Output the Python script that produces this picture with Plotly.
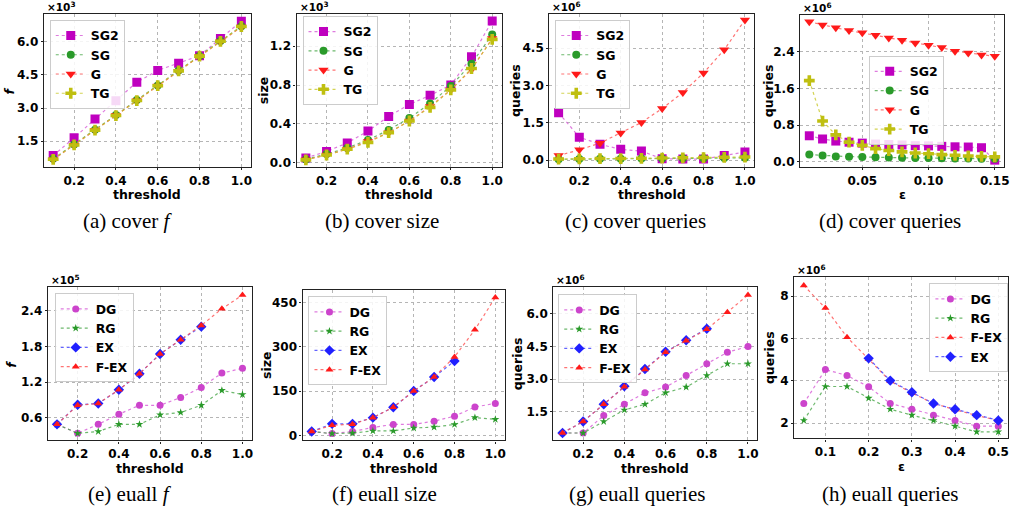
import plotly.graph_objects as go

W, H = 1016, 517

threshold = [0.1, 0.2, 0.3, 0.4, 0.5, 0.6, 0.7, 0.8, 0.9, 1.0]
threshold_ex = [0.1, 0.2, 0.3, 0.4, 0.5, 0.6, 0.7, 0.8]
eps_cover = [0.01, 0.02, 0.03, 0.04, 0.05, 0.06, 0.07, 0.08, 0.09, 0.10, 0.11, 0.12, 0.13, 0.14, 0.15]
eps_euall = [0.05, 0.10, 0.15, 0.20, 0.25, 0.30, 0.35, 0.40, 0.45, 0.50]
eps_euall_ex = [0.20, 0.25, 0.30, 0.35, 0.40, 0.45, 0.50]

# (a) cover f  (x10^3)
a_SG2 = [0.85, 1.65, 2.50, 3.33, 4.17, 4.70, 5.03, 5.37, 6.15, 6.93]
a_SG = [0.70, 1.35, 2.02, 2.68, 3.36, 4.02, 4.70, 5.36, 6.03, 6.70]
a_G = [0.66, 1.32, 1.99, 2.66, 3.33, 4.00, 4.67, 5.34, 6.00, 6.67]
a_TG = [0.68, 1.33, 2.00, 2.66, 3.34, 4.01, 4.68, 5.35, 6.02, 6.69]
# (b) cover size (x10^3)
b_SG2 = [0.05, 0.116, 0.204, 0.327, 0.477, 0.60, 0.694, 0.80, 1.09, 1.46]
b_SG = [0.034, 0.089, 0.153, 0.235, 0.337, 0.46, 0.61, 0.79, 1.02, 1.32]
b_G = [0.03, 0.08, 0.14, 0.22, 0.31, 0.43, 0.58, 0.75, 0.96, 1.28]
b_TG = [0.03, 0.08, 0.14, 0.21, 0.31, 0.43, 0.57, 0.75, 0.97, 1.27]
# (c) cover queries (x10^6)
c_SG2 = [1.90, 0.92, 0.63, 0.43, 0.36, 0.05, 0.04, 0.04, 0.18, 0.32]
c_SG = [0.03, 0.04, 0.05, 0.05, 0.06, 0.06, 0.07, 0.07, 0.08, 0.09]
c_G = [0.18, 0.41, 0.68, 1.09, 1.51, 2.07, 2.71, 3.50, 4.43, 5.63]
c_TG = [0.04, 0.05, 0.06, 0.06, 0.07, 0.08, 0.09, 0.10, 0.11, 0.12]
# (d) cover queries vs eps (x10^6)
d_SG2 = [0.57, 0.50, 0.455, 0.43, 0.41, 0.39, 0.38, 0.37, 0.355, 0.35, 0.34, 0.33, 0.325, 0.31, 0.04]
d_SG = [0.16, 0.14, 0.12, 0.115, 0.11, 0.10, 0.095, 0.09, 0.088, 0.085, 0.08, 0.078, 0.075, 0.072, 0.07]
d_G = [3.05, 2.98, 2.92, 2.86, 2.81, 2.76, 2.70, 2.65, 2.59, 2.54, 2.49, 2.41, 2.37, 2.33, 2.30]
d_TG = [1.77, 0.89, 0.59, 0.43, 0.36, 0.29, 0.25, 0.22, 0.195, 0.18, 0.16, 0.145, 0.13, 0.12, 0.11]
# (e) euall f (x10^5)
e_DG = [0.49, 0.34, 0.49, 0.66, 0.81, 0.81, 0.94, 1.11, 1.35, 1.43]
e_RG = [0.49, 0.34, 0.37, 0.49, 0.49, 0.65, 0.69, 0.81, 1.06, 0.99]
e_EX = [0.49, 0.82, 0.84, 1.07, 1.34, 1.67, 1.91, 2.13]
e_FEX = [0.49, 0.81, 0.84, 1.07, 1.34, 1.67, 1.91, 2.15, 2.43, 2.66]
# (f) euall size
f_DG = [14, 7, 14, 28, 38, 38, 49, 66, 97, 109]
f_RG = [14, 7, 9, 16, 16, 26, 29, 38, 61, 55]
f_EX = [14, 40, 40, 61, 96, 151, 198, 252]
f_FEX = [14, 35, 39, 61, 96, 151, 198, 266, 358, 467]
# (g) euall queries (x10^6)
g_DG = [0.53, 0.53, 1.33, 1.85, 2.38, 2.64, 3.17, 3.71, 4.24, 4.50]
g_RG = [0.53, 0.53, 1.06, 1.59, 1.85, 2.38, 2.64, 3.17, 3.71, 3.71]
g_EX = [0.53, 1.06, 1.85, 2.68, 3.47, 4.26, 4.79, 5.32]
g_FEX = [0.53, 1.06, 1.85, 2.65, 3.45, 4.24, 4.77, 5.29, 6.08, 6.87]
# (h) euall queries vs eps (x10^6)
h_DG = [2.93, 4.53, 4.25, 3.72, 2.93, 2.66, 2.38, 2.13, 1.86, 1.86]
h_RG = [2.13, 3.73, 3.73, 3.18, 2.66, 2.38, 2.13, 1.86, 1.59, 1.59]
h_FEX = [8.50, 7.43, 6.06, 5.03, 3.98, 3.43, 2.93, 2.64, 2.36, 2.13]
h_EX = [5.06, 4.01, 3.46, 2.93, 2.66, 2.38, 2.13]

captions = ["(a) cover <i>f</i>", "(b) cover size", "(c) cover queries", "(d) cover queries",
            "(e) euall <i>f</i>", "(f) euall size", "(g) euall queries", "(h) euall queries"]
ylabels = ["<i>f</i>", "size", "queries", "queries", "<i>f</i>", "size", "queries", "queries"]
xlabels = ["threshold", "threshold", "threshold", "ε", "threshold", "threshold", "threshold", "ε"]
exponents = ["×10<sup>3</sup>", "×10<sup>3</sup>", "×10<sup>6</sup>", "×10<sup>6</sup>",
             "×10<sup>5</sup>", "", "×10<sup>6</sup>", "×10<sup>6</sup>"]

C_M = "#bf00bf"; C_G = "#2a9a2a"; C_R = "#ff1a1a"; C_Y = "#bfbf10"; C_B = "#2020ff"
LM = "rgba(214,90,214,0.8)"; LG = "rgba(60,160,60,0.75)"; LR = "rgba(255,80,80,0.8)"; LY = "rgba(200,200,40,0.8)"; LB = "rgba(60,60,255,0.8)"

# panel geometry in pixels: (left, right, top, bottom)
boxes = [(44, 252, 14, 168), (298, 504, 14, 168), (552, 758, 14, 168), (804, 1009, 15, 168),
         (48, 253, 289, 443), (304, 507, 292, 443), (556, 761, 289, 443), (798, 1013, 279, 441)]
xr = [[0.055, 1.045]] * 3 + [[0.003, 0.157]] + [[0.055, 1.045]] * 3 + [[0.0275, 0.5225]]
yr = [[0.33, 7.26], [-0.044, 1.532], [-0.28, 5.87], [-0.11, 3.2],
      [0.22, 2.79], [-16, 491], [0.19, 7.22], [1.28, 8.88]]
ytv = [[1.5, 3.0, 4.5, 6.0], [0.0, 0.4, 0.8, 1.2], [0.0, 1.5, 3.0, 4.5], [0.0, 0.8, 1.6, 2.4],
       [0.6, 1.2, 1.8, 2.4], [0, 150, 300, 450], [1.5, 3.0, 4.5, 6.0], [2, 4, 6, 8]]
yfmt = [".1f", ".1f", ".1f", ".1f", ".1f", "d", ".1f", "d"]
xtv = [[0.2, 0.4, 0.6, 0.8, 1.0]] * 3 + [[0.05, 0.10, 0.15]] + [[0.2, 0.4, 0.6, 0.8, 1.0]] * 3 + [[0.1, 0.2, 0.3, 0.4, 0.5]]
xfmt = [".1f"] * 3 + [".2f"] + [".1f"] * 4
legpos = [(50, 20), (304, 16), (558, 20), (873, 56), (55, 295), (310, 298), (561, 296), (934, 285)]
ylab_x = [10, 265, 518, 773, 12, 268, 520, 774]
cap_x = [128, 384, 639, 894, 131, 386, 640, 894]
cap_y = [222, 222, 222, 222, 497, 497, 497, 497]

series = [
    [("SG2", threshold, a_SG2, "square", C_M, LM, 9), ("SG", threshold, a_SG, "circle", C_G, LG, 8),
     ("G", threshold, a_G, "triangle-down", C_R, LR, 9), ("TG", threshold, a_TG, "cross", C_Y, LY, 9)],
    [("SG2", threshold, b_SG2, "square", C_M, LM, 9), ("SG", threshold, b_SG, "circle", C_G, LG, 8),
     ("G", threshold, b_G, "triangle-down", C_R, LR, 9), ("TG", threshold, b_TG, "cross", C_Y, LY, 9)],
    [("SG2", threshold, c_SG2, "square", C_M, LM, 9), ("SG", threshold, c_SG, "circle", C_G, LG, 8),
     ("G", threshold, c_G, "triangle-down", C_R, LR, 9), ("TG", threshold, c_TG, "cross", C_Y, LY, 9)],
    [("SG2", eps_cover, d_SG2, "square", C_M, LM, 9), ("SG", eps_cover, d_SG, "circle", C_G, LG, 8),
     ("G", eps_cover, d_G, "triangle-down", C_R, LR, 9), ("TG", eps_cover, d_TG, "cross", C_Y, LY, 9)],
    [("DG", threshold, e_DG, "circle", "#cc44cc", LM, 7), ("RG", threshold, e_RG, "star", C_G, LG, 6),
     ("EX", threshold_ex, e_EX, "diamond", C_B, LB, 8), ("F-EX", threshold, e_FEX, "triangle-up", C_R, LR, 7)],
    [("DG", threshold, f_DG, "circle", "#cc44cc", LM, 7), ("RG", threshold, f_RG, "star", C_G, LG, 6),
     ("EX", threshold_ex, f_EX, "diamond", C_B, LB, 8), ("F-EX", threshold, f_FEX, "triangle-up", C_R, LR, 7)],
    [("DG", threshold, g_DG, "circle", "#cc44cc", LM, 7), ("RG", threshold, g_RG, "star", C_G, LG, 6),
     ("EX", threshold_ex, g_EX, "diamond", C_B, LB, 8), ("F-EX", threshold, g_FEX, "triangle-up", C_R, LR, 7)],
    [("DG", eps_euall, h_DG, "circle", "#cc44cc", LM, 7), ("RG", eps_euall, h_RG, "star", C_G, LG, 6),
     ("F-EX", eps_euall, h_FEX, "triangle-up", C_R, LR, 7), ("EX", eps_euall_ex, h_EX, "diamond", C_B, LB, 8)],
]

FONT = "DejaVu Sans"
fig = go.Figure()
layout = dict(width=W, height=H, margin=dict(l=0, r=0, t=0, b=0),
              paper_bgcolor="white", plot_bgcolor="white",
              font=dict(family=FONT, size=12, color="black", weight="bold"),
              annotations=[])

for i in range(8):
    k = "" if i == 0 else str(i + 1)
    L, R, T, B = boxes[i]
    axstyle = dict(showline=True, mirror=True, linecolor="#222", linewidth=1.2,
                   ticks="outside", ticklen=2, tickcolor="#222",
                   showgrid=True, gridcolor="#b5b5b5", griddash="dot", gridwidth=1,
                   zeroline=False, tickfont=dict(family=FONT, size=12, color="black", weight="bold"))
    layout["xaxis" + k] = dict(domain=[L / W, R / W], anchor="y" + k, range=xr[i],
                               tickvals=xtv[i], tickformat=xfmt[i], **axstyle)
    layout["yaxis" + k] = dict(domain=[1 - B / H, 1 - T / H], anchor="x" + k, range=yr[i],
                               tickvals=ytv[i], tickformat=yfmt[i], **axstyle)
    lx, ly = legpos[i]
    layout["legend" + k] = dict(x=lx / W, y=1 - ly / H, xanchor="left", yanchor="top",
                                bgcolor="rgba(255,255,255,0.85)", bordercolor="#cccccc", borderwidth=1,
                                font=dict(family=FONT, size=12.5, color="black", weight="bold"),
                                itemwidth=30, tracegroupgap=0)
    for (name, xs, ys, sym, mc, lc, ms) in series[i]:
        fig.add_trace(go.Scatter(x=xs, y=ys, name=name, mode="lines+markers",
                                 xaxis="x" + k, yaxis="y" + k, legend="legend" + k,
                                 line=dict(color=lc, width=1.2, dash="dot"),
                                 marker=dict(symbol=sym, color=mc, size=ms, line=dict(width=0))))
    cx = (L + R) / 2
    anns = layout["annotations"]
    anns.append(dict(text=xlabels[i], x=cx / W, y=1 - (B + 28) / H, xref="paper", yref="paper",
                     showarrow=False, xanchor="center", yanchor="middle",
                     font=dict(family=FONT, size=12.5, color="black", weight="bold")))
    anns.append(dict(text=ylabels[i], x=ylab_x[i] / W, y=1 - ((T + B) / 2) / H, xref="paper", yref="paper",
                     showarrow=False, xanchor="center", yanchor="middle", textangle=-90,
                     font=dict(family=FONT, size=12.5, color="black", weight="bold")))
    if exponents[i]:
        anns.append(dict(text=exponents[i], x=(L + 1) / W, y=1 - (T + 1) / H, xref="paper", yref="paper",
                         showarrow=False, xanchor="left", yanchor="bottom",
                         font=dict(family=FONT, size=10.5, color="black", weight="bold")))
    anns.append(dict(text=captions[i], x=cap_x[i] / W, y=1 - cap_y[i] / H, xref="paper", yref="paper",
                     showarrow=False, xanchor="center", yanchor="middle",
                     font=dict(family="Liberation Serif", size=21, color="black", weight="normal")))

fig.update_layout(**layout)
fig.write_html("out.html")
